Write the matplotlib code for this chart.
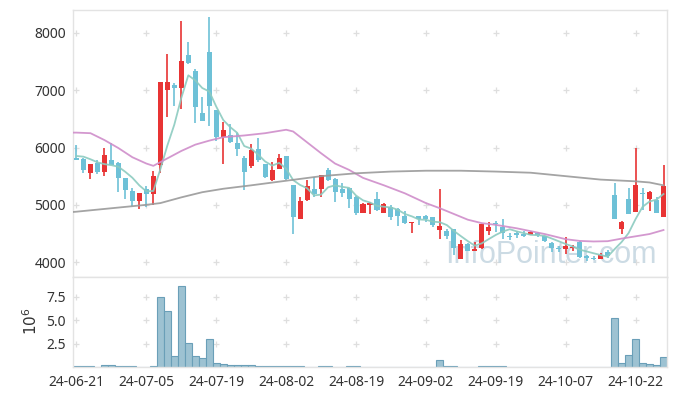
import matplotlib
matplotlib.use('Agg')
import matplotlib.pyplot as plt
import numpy as np
import pandas as pd

tick_labels = ['24-06-21', '24-07-05', '24-07-19', '24-08-02', '24-08-19',
               '24-09-02', '24-09-19', '24-10-07', '24-10-22']
tick_pos = [0, 10, 20, 30, 40, 50, 60, 70, 80]

opens = [5820, 5800, 5560, 5730, 5580, 5780, 5730, 5470, 5240, 5070,
         5270, 5180, 5690, 7010, 7090, 7030, 7620, 7340, 6600, 7670,
         6650, 6180, 6220, 6080, 5820, 5670, 5970, 5710, 5430, 5630,
         5850, 5340, 4760, 5090, 5280, 5280, 5600, 5450, 5280, 5300,
         5140, 4860, 5000, 5110, 4850, 4970, 4920, 4800, 4680, 4800,
         4810, 4780, 4560, 4550, 4570, 4060, 4310, 4200, 4240, 4550,
         4690, 4610, 4460, 4510, 4490, 4470, 4510, 4450, 4340, 4250,
         4230, 4240, 4350, 4110, 4080, 4060, 4180, 5170, 4570, 5110,
         4880, 5210, 5100, 5090, 4790]
highs = [6040, 5810, 5715, 5790, 6000, 6070, 5740, 5470, 5300, 5210,
         5320, 5590, 7150, 7630, 7120, 8210, 7840, 7370, 6880, 8280,
         6660, 6450, 6410, 6260, 5860, 6060, 6170, 5720, 5740, 5890,
         5860, 5350, 5130, 5430, 5490, 5520, 5650, 5460, 5380, 5300,
         5150, 5040, 5045, 5230, 5040, 4990, 4950, 4890, 4700, 4800,
         4820, 4790, 5270, 4570, 4580, 4380, 4330, 4350, 4660, 4700,
         4720, 4750, 4500, 4540, 4540, 4540, 4520, 4460, 4350, 4280,
         4440, 4300, 4360, 4130, 4100, 4160, 4210, 5380, 4710, 5300,
         6000, 5300, 5240, 5140, 5700]
lows = [5780, 5550, 5450, 5540, 5500, 5690, 5230, 5100, 4980, 4920,
        4960, 4990, 5560, 6530, 6720, 6670, 7450, 6420, 6460, 6380,
        6110, 5720, 6080, 5850, 5260, 5650, 5740, 5460, 5420, 5620,
        5440, 4490, 4750, 5070, 5130, 5140, 5420, 5050, 5140, 4940,
        4830, 4850, 4840, 4890, 4850, 4730, 4630, 4670, 4500, 4650,
        4700, 4620, 4410, 4400, 4120, 4050, 4190, 4195, 4230, 4470,
        4520, 4410, 4380, 4420, 4430, 4470, 4440, 4350, 4180, 4180,
        4150, 4200, 4080, 4020, 4040, 4050, 4070, 4750, 4490, 4840,
        4870, 4910, 4890, 4860, 4790]
closes = [5790, 5600, 5710, 5580, 5870, 5700, 5460, 5260, 5070, 5200,
          5180, 5500, 7150, 7140, 7030, 7510, 7470, 6710, 6470, 6730,
          6190, 6300, 6090, 5970, 5580, 5960, 5780, 5490, 5610, 5820,
          5450, 4790, 5060, 5330, 5190, 5520, 5430, 5230, 5200, 5100,
          4850, 5010, 5040, 4910, 5020, 4790, 4800, 4680, 4700, 4750,
          4760, 4640, 4630, 4450, 4240, 4310, 4200, 4230, 4660, 4610,
          4670, 4500, 4430, 4470, 4460, 4520, 4470, 4370, 4240, 4220,
          4280, 4260, 4090, 4080, 4060, 4130, 4110, 4750, 4700, 4840,
          5350, 5180, 5220, 4860, 5330]
volumes = [0.14, 0.14, 0.14, 0.03, 0.2, 0.2, 0.14, 0.14, 0.14, 0.03,
           0.03, 0.07, 7.43, 5.93, 1.21, 8.6, 2.54, 1.21, 1.0, 3.04,
           0.39, 0.29, 0.17, 0.17, 0.17, 0.17, 0.1, 0.1, 0.1, 0.1,
           0.1, 0.1, 0.1, 0.03, 0.03, 0.1, 0.1, 0.03, 0.03, 0.1,
           0.1, 0.03, 0.03, 0.03, 0.03, 0.03, 0.03, 0.03, 0.03, 0.03,
           0.03, 0.03, 0.8, 0.1, 0.1, 0.03, 0.03, 0.03, 0.1, 0.1,
           0.1, 0.1, 0.03, 0.03, 0.03, 0.03, 0.03, 0.03, 0.03, 0.03,
           0.03, 0.03, 0.03, 0.03, 0.03, 0.03, 0.03, 5.18, 0.46, 1.32,
           3.04, 0.4, 0.3, 0.2, 1.1]

ma5_head = [5852, 5840, 5795, 5742]
ma20_idx = [-0.5, 0, 2, 4, 6, 8, 10, 11, 13, 15, 17, 19, 21, 24, 27, 30, 31,
            33, 35, 37, 39, 41, 44, 47, 50, 52, 54, 56, 58, 60, 63, 65, 67,
            70, 72, 74, 76, 78, 80, 82, 84]
ma20_val = [6260, 6260, 6250, 6130, 5990, 5830, 5720, 5680, 5810, 5940, 6050,
            6120, 6180, 6210, 6250, 6310, 6280, 6090, 5900, 5720, 5610, 5470,
            5340, 5200, 5030, 4940, 4840, 4740, 4680, 4650, 4590, 4540, 4490,
            4400, 4370, 4360, 4365, 4410, 4450, 4490, 4560]
ma60_idx = [-0.5, 0, 5, 10, 12, 15, 18, 21, 25, 30, 35, 40, 45, 50, 55, 60,
            65, 70, 75, 80, 82, 84]
ma60_val = [4875, 4880, 4940, 5000, 5030, 5130, 5220, 5280, 5340, 5420, 5500,
            5550, 5580, 5595, 5595, 5580, 5560, 5500, 5440, 5410, 5390, 5340]

RED = '#e83434'
BLUE = '#6ec1d7'

W, H = 677, 396
fig = plt.figure(figsize=(W / 100, H / 100), dpi=100)
ax = fig.add_axes([73 / W, 1 - 277 / H, 594 / W, 267 / H])
axv = fig.add_axes([73 / W, 1 - 367 / H, 594 / W, 90 / H], sharex=ax)

n = len(closes)
x = np.arange(n)
o = np.array(opens); c = np.array(closes)
hi = np.array(highs); lo = np.array(lows)
up = c >= o
cols = np.where(up, RED, BLUE)

ax.vlines(x, lo, hi, colors=cols, linewidth=1.2, zorder=2)
ax.bar(x, np.abs(c - o) + 1e-9, bottom=np.minimum(o, c), width=0.72,
       color=cols, linewidth=0, zorder=3)

ma5 = pd.Series(closes).rolling(5).mean().to_numpy()
ma5[:4] = ma5_head
ax.plot(x, ma5, color='#8ccbc0', lw=1.3, zorder=4, alpha=0.9)
ax.plot(ma20_idx, ma20_val, color='#cf8dca', lw=1.3, zorder=4, alpha=0.9)
ax.plot(ma60_idx, ma60_val, color='#9a9a9a', lw=1.3, zorder=4, alpha=0.9)

ax.set_xlim(-0.5, n - 0.5)
ax.set_ylim(3740, 8400)
yt = [4000, 5000, 6000, 7000, 8000]
ax.set_yticks(yt)
ax.set_yticklabels([str(v) for v in yt])
gx, gy = np.meshgrid(tick_pos, yt)
ax.scatter(gx.ravel(), gy.ravel(), marker='+', s=22, color='#dedede',
           linewidths=0.9, zorder=1)

axv.bar(x, volumes, width=1.0, color='#9dc2d2', edgecolor='#6a9fb8',
        linewidth=0.8, zorder=2)
axv.set_ylim(0, 9.6)
vt = [2.5, 5.0, 7.5]
axv.set_yticks(vt)
axv.set_yticklabels(['2.5', '5.0', '7.5'])
gx, gy = np.meshgrid(tick_pos, vt)
axv.scatter(gx.ravel(), gy.ravel(), marker='+', s=22, color='#dedede',
            linewidths=0.9, zorder=1)
axv.set_xticks(tick_pos)
axv.set_xticklabels(tick_labels)

for a in (ax, axv):
    for s in a.spines.values():
        s.set_color('#e3e3e3')
        s.set_linewidth(1.0)
    a.tick_params(length=0, labelsize=10, colors='#333333', pad=5)
    for lab in a.get_yticklabels() + a.get_xticklabels():
        lab.set_family(['Noto Sans', 'DejaVu Sans'])
ax.tick_params(labelbottom=False)
axv.tick_params(axis='x', pad=6)

fig.text(31 / W, 1 - 321 / H, r'$10^6$', rotation=90, ha='center',
         va='center', fontsize=11, color='#333333')

ax.text(67.9, 4130, 'InfoPointer.com', ha='center',
        va='center', fontsize=22, color='#c3d5e0', alpha=0.85,
        family=['Liberation Sans', 'DejaVu Sans'], zorder=1.5, clip_on=False)

fig.savefig('out.png', dpi=100)
